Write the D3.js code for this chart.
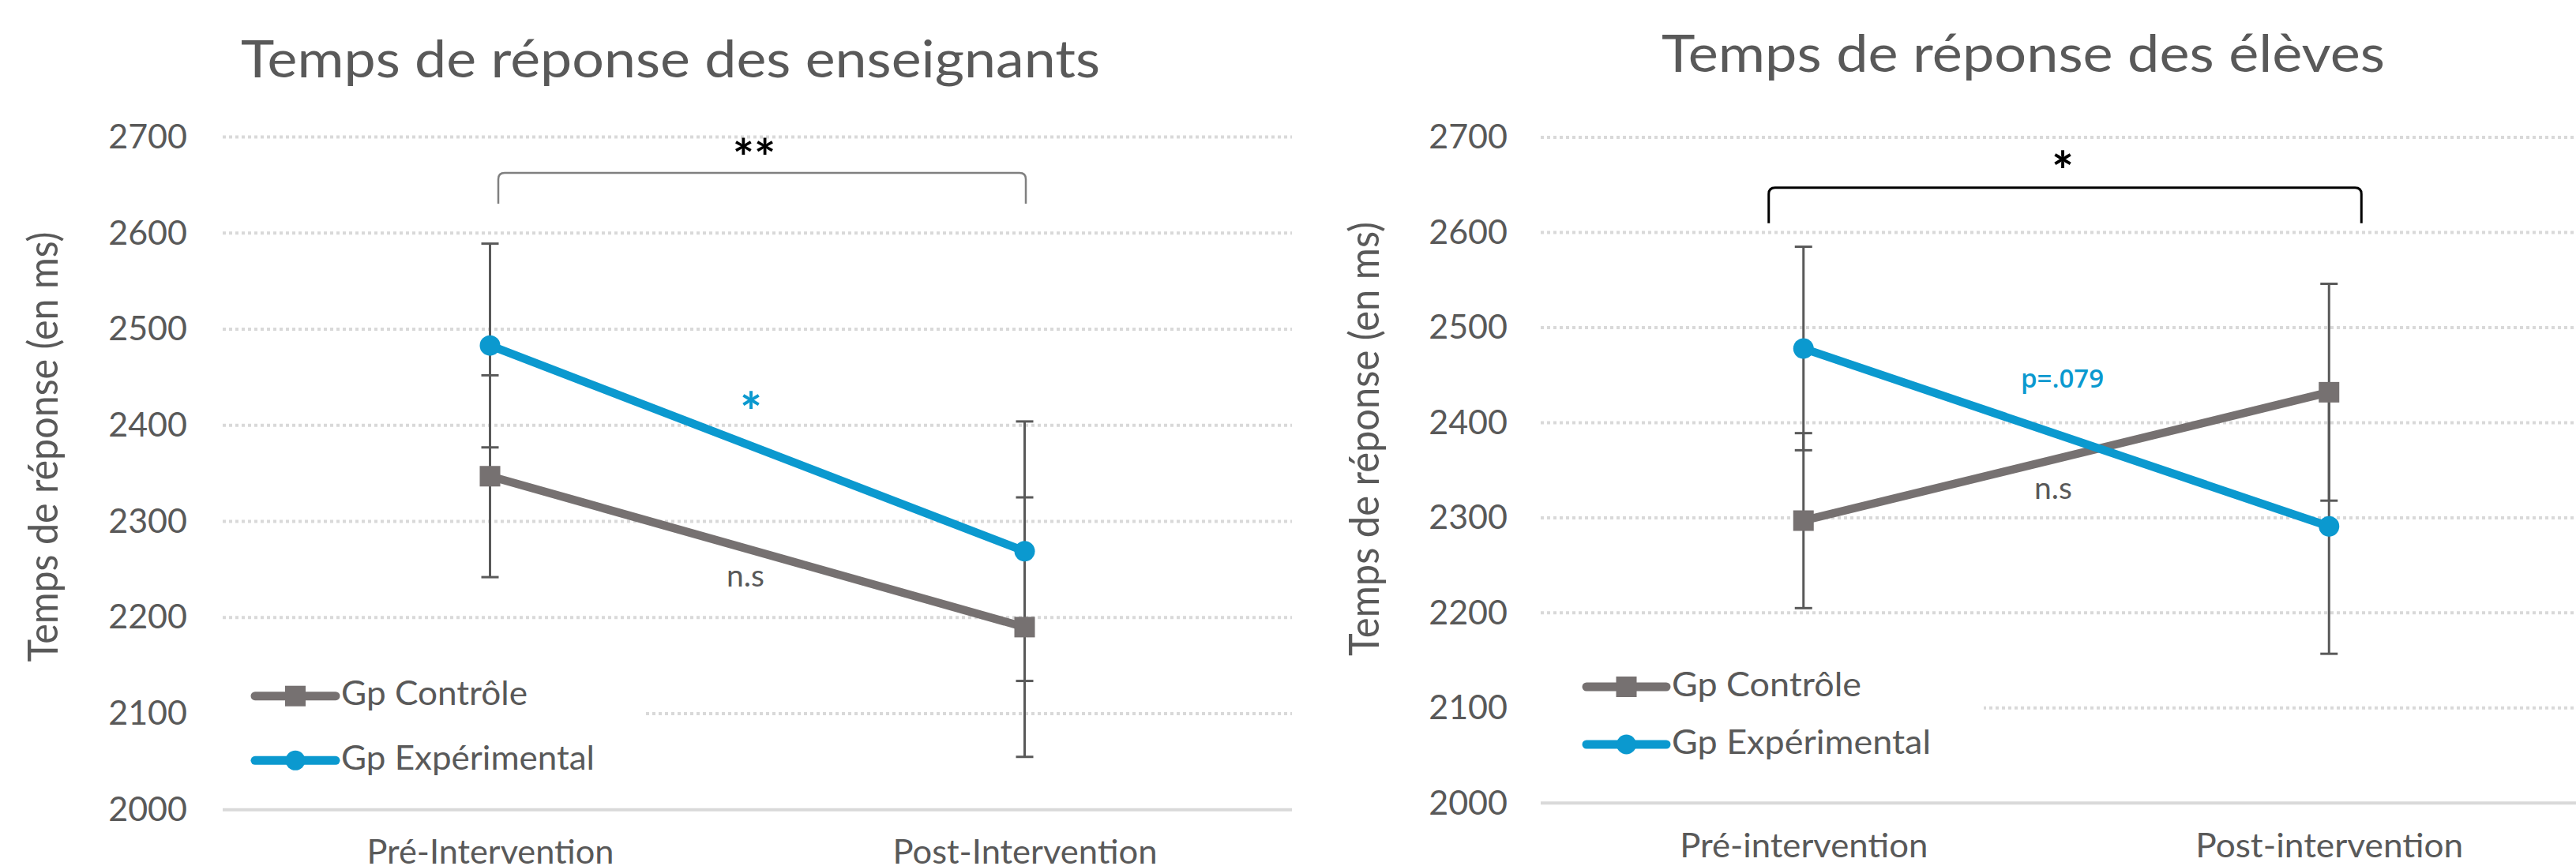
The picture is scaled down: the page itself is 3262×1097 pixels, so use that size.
<!DOCTYPE html>
<html><head><meta charset="utf-8">
<script src="https://cdn.jsdelivr.net/npm/d3@7"></script>
<style>html,body{margin:0;padding:0;background:#fff;overflow:hidden} svg{display:block}</style>
</head><body>
<script>
// ---------- DATA ----------
const yTicks = [2000, 2100, 2200, 2300, 2400, 2500, 2600, 2700];
const teacherCategories = ["Pré-Intervention", "Post-Intervention"];
const studentCategories = ["Pré-intervention", "Post-intervention"];
const seriesNames = ["Gp Contrôle", "Gp Expérimental"];
const teacherControl = [2347, 2190];
const teacherControlErr = [105, 135];
const teacherExperimental = [2483, 2269];
const teacherExperimentalErr = [106, 135];
const studentControl = [2297, 2432];
const studentControlErr = [92, 114];
const studentExperimental = [2478, 2291];
const studentExperimentalErr = [107, 134];
const teacherTitle = "Temps de réponse des enseignants";
const studentTitle = "Temps de réponse des élèves";
const yTitle = "Temps de réponse (en ms)";
const teacherNotes = ["**", "*", "n.s"];
const studentNotes = ["*", "p=.079", "n.s"];

// ---------- STYLE ----------
const FONT = "Lato, 'Open Sans', sans-serif";
const BLUE = "#0b99cf";
const GRAY = "#767171";
const TEXT = "#595959";
const GRID = "#d9d9d9";

const W = 3262, H = 1097;
const svg = d3.select("body").append("svg").attr("width", W).attr("height", H)
  .attr("viewBox", `0 0 ${W} ${H}`);
svg.append("rect").attr("width", W).attr("height", H).attr("fill", "#fff");

function drawChart(cfg) {
  const g = svg.append("g");
  const x = d3.scalePoint().domain(cfg.categories).range([cfg.x0, cfg.x1]).padding(0.5);
  const y = d3.scaleLinear().domain([2000, 2700]).range([cfg.yBottom, cfg.yTop]);

  // gridlines
  g.selectAll(".grid").data(yTicks.filter(t => t > 2000)).join("line")
    .attr("x1", cfg.x0).attr("x2", cfg.x1)
    .attr("y1", d => y(d)).attr("y2", d => y(d))
    .attr("stroke", GRID).attr("stroke-width", 4).attr("stroke-dasharray", "4 4");
  g.append("line").attr("x1", cfg.x0).attr("x2", cfg.x1)
    .attr("y1", y(2000)).attr("y2", y(2000))
    .attr("stroke", GRID).attr("stroke-width", 4);

  // legend background (covers gridlines)
  g.append("rect").attr("x", cfg.x0).attr("y", cfg.legBg[0])
    .attr("width", cfg.legBg[2] - cfg.x0).attr("height", cfg.legBg[1] - cfg.legBg[0])
    .attr("fill", "#fff");

  // y axis
  const ya = g.append("g").attr("transform", `translate(${cfg.x0},0)`)
    .call(d3.axisLeft(y).tickValues(yTicks).tickSize(0).tickPadding(cfg.tickGap).tickFormat(d3.format("d")));
  ya.select(".domain").remove();
  ya.attr("font-family", FONT).attr("font-size", 43);
  ya.selectAll("text").attr("fill", TEXT);

  // x axis
  const xa = g.append("g").attr("transform", `translate(0,${y(2000)})`)
    .call(d3.axisBottom(x).tickSize(0).tickPadding(cfg.xPad));
  xa.select(".domain").remove();
  xa.attr("font-family", FONT).attr("font-size", 42);
  xa.selectAll("text").attr("fill", TEXT)
    .attr("textLength", (d, i) => cfg.xLabelLen[i]).attr("lengthAdjust", "spacingAndGlyphs");

  const series = [
    { vals: cfg.control, errs: cfg.controlErr, color: GRAY, marker: "square" },
    { vals: cfg.experimental, errs: cfg.experimentalErr, color: BLUE, marker: "circle" }
  ];

  // error bars
  series.forEach(s => {
    const eg = g.append("g").attr("stroke", TEXT).attr("stroke-width", 3);
    cfg.categories.forEach((c, i) => {
      const cx = x(c), lo = y(s.vals[i] - s.errs[i]), hi = y(s.vals[i] + s.errs[i]);
      eg.append("line").attr("x1", cx).attr("x2", cx).attr("y1", lo).attr("y2", hi);
      eg.append("line").attr("x1", cx - 11).attr("x2", cx + 11).attr("y1", lo).attr("y2", lo);
      eg.append("line").attr("x1", cx - 11).attr("x2", cx + 11).attr("y1", hi).attr("y2", hi);
    });
  });

  // lines
  const line = d3.line().x((d, i) => x(cfg.categories[i])).y(d => y(d));
  series.forEach(s => {
    g.append("path").datum(s.vals).attr("d", line).attr("fill", "none")
      .attr("stroke", s.color).attr("stroke-width", 10.5).attr("stroke-linecap", "round");
  });
  // markers
  series.forEach(s => {
    s.vals.forEach((v, i) => {
      const cx = x(cfg.categories[i]);
      if (s.marker === "square") {
        g.append("rect").attr("x", cx - 13).attr("y", y(v) - 13).attr("width", 26).attr("height", 26)
          .attr("fill", s.color);
      } else {
        g.append("circle").attr("cx", cx).attr("cy", y(v)).attr("r", 13).attr("fill", s.color);
      }
    });
  });

  // bracket
  const bx0 = x(cfg.categories[0]) + cfg.bracket.dx0;
  const bx1 = x(cfg.categories[1]) + cfg.bracket.dx1;
  const bt = y(cfg.bracket.top), bb = y(cfg.bracket.bottom);
  const r = 8;
  g.append("path")
    .attr("d", `M${bx0},${bb} L${bx0},${bt + r} Q${bx0},${bt} ${bx0 + r},${bt} L${bx1 - r},${bt} Q${bx1},${bt} ${bx1},${bt + r} L${bx1},${bb}`)
    .attr("fill", "none").attr("stroke", cfg.bracket.color).attr("stroke-width", cfg.bracket.width);

  // annotations
  const mid = (x(cfg.categories[0]) + x(cfg.categories[1])) / 2;
  cfg.notes.forEach(n => {
    g.append("text").attr("x", mid + n.dx).attr("y", y(n.v)).attr("text-anchor", "middle")
      .attr("font-family", n.family || FONT).attr("font-weight", n.weight || 400)
      .attr("font-size", n.size).attr("fill", n.color).text(n.text);
  });

  // legend
  const legItems = [
    { name: seriesNames[0], color: GRAY, marker: "square", y: cfg.legY[0], len: cfg.legLen[0] },
    { name: seriesNames[1], color: BLUE, marker: "circle", y: cfg.legY[1], len: cfg.legLen[1] }
  ];
  legItems.forEach(it => {
    g.append("line").attr("x1", cfg.legX[0]).attr("x2", cfg.legX[1]).attr("y1", it.y).attr("y2", it.y)
      .attr("stroke", it.color).attr("stroke-width", 11).attr("stroke-linecap", "round");
    const mx = (cfg.legX[0] + cfg.legX[1]) / 2;
    if (it.marker === "square") {
      g.append("rect").attr("x", mx - 13).attr("y", it.y - 13).attr("width", 26).attr("height", 26).attr("fill", it.color);
    } else {
      g.append("circle").attr("cx", mx).attr("cy", it.y).attr("r", 12.5).attr("fill", it.color);
    }
    g.append("text").attr("x", cfg.legX[1] + 7).attr("y", it.y + 11.5)
      .attr("font-family", FONT).attr("font-size", 42).attr("fill", TEXT)
      .attr("textLength", it.len).attr("lengthAdjust", "spacingAndGlyphs").text(it.name);
  });

  // title
  g.append("text").attr("x", cfg.titleX).attr("y", cfg.titleY).attr("text-anchor", "middle")
    .attr("font-family", FONT).attr("font-size", 66).attr("fill", TEXT)
    .attr("textLength", cfg.titleLen).attr("lengthAdjust", "spacingAndGlyphs").text(cfg.title);

  // y title
  g.append("text").attr("transform", `translate(${cfg.yTitleX},${cfg.yTitleY}) rotate(-90)`)
    .attr("text-anchor", "middle").attr("font-family", FONT).attr("font-size", 53).attr("fill", TEXT)
    .attr("textLength", cfg.yTitleLen).attr("lengthAdjust", "spacingAndGlyphs").text(yTitle);
}

drawChart({
  categories: teacherCategories,
  control: teacherControl, controlErr: teacherControlErr,
  experimental: teacherExperimental, experimentalErr: teacherExperimentalErr,
  x0: 282, x1: 1636, yBottom: 1025.7, yTop: 173.5,
  tickGap: 45, xPad: 38, xLabelLen: [313, 335],
  legBg: [835, 995, 818], legX: [323, 425], legY: [881.7, 963.3], legLen: [236, 321],
  title: teacherTitle, titleX: 849, titleY: 98, titleLen: 1088,
  yTitleX: 73, yTitleY: 566, yTitleLen: 545,
  bracket: { dx0: 10.5, dx1: 1.5, top: 2662.7, bottom: 2630.6, color: "#808080", width: 2.5 },
  notes: [
    { text: teacherNotes[0], v: 2659, dx: -4, size: 64, weight: 700, color: "#000" },
    { text: teacherNotes[1], v: 2394, dx: -8, size: 66, weight: 700, color: BLUE },
    { text: teacherNotes[2], v: 2232, dx: -15, size: 39, color: TEXT }
  ]
});

drawChart({
  categories: studentCategories,
  control: studentControl, controlErr: studentControlErr,
  experimental: studentExperimental, experimentalErr: studentExperimentalErr,
  x0: 1951, x1: 3282, yBottom: 1017.3, yTop: 174,
  tickGap: 42, xPad: 39, xLabelLen: [314, 339],
  legBg: [825, 985, 2512], legX: [2009, 2110], legY: [870, 943], legLen: [240, 328],
  title: studentTitle, titleX: 2562, titleY: 91, titleLen: 916,
  yTitleX: 1746, yTitleY: 556, yTitleLen: 550,
  bracket: { dx0: -44, dx1: 41, top: 2647, bottom: 2609.8, color: "#000", width: 3 },
  notes: [
    { text: studentNotes[0], v: 2644, dx: -4.5, size: 66, weight: 700, color: "#000" },
    { text: studentNotes[1], v: 2437, dx: -5, size: 33, weight: 600, family: "'Open Sans', sans-serif", color: BLUE },
    { text: studentNotes[2], v: 2320, dx: -16.5, size: 39, color: TEXT }
  ]
});
</script>
</body></html>
